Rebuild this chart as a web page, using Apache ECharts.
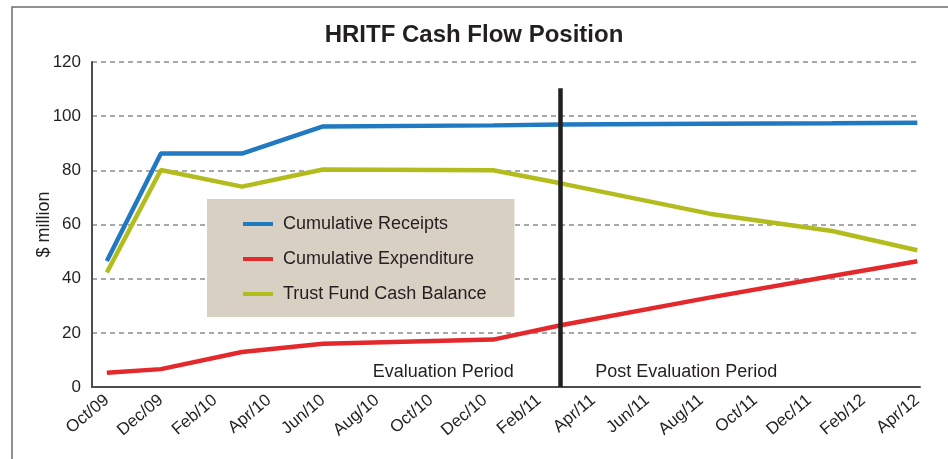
<!DOCTYPE html>
<html>
<head>
<meta charset="utf-8">
<script src="https://cdn.jsdelivr.net/npm/echarts@6/dist/echarts.min.js"></script>
<style>
  html, body { margin: 0; padding: 0; background: #fff; }
  #chart { width: 948px; height: 459px; }
</style>
</head>
<body>
<div id="chart"></div>
<script>
// tick labels, one every two months starting Oct/09 (month offset 0)
const tickLabels = ['Oct/09', 'Dec/09', 'Feb/10', 'Apr/10', 'Jun/10', 'Aug/10', 'Oct/10', 'Dec/10',
  'Feb/11', 'Apr/11', 'Jun/11', 'Aug/11', 'Oct/11', 'Dec/11', 'Feb/12', 'Apr/12'];
const tickMonths = [0, 2, 4, 6, 8, 10, 12, 14, 16, 18, 20, 22, 24, 26, 28, 30];

// data points (months after Oct/09)
const pointMonths = [0, 2, 5, 8, 14.3, 16.8, 22.3, 26.85, 30];
const receipts    = [46.5, 86.2, 86.2, 96.2, 96.6, 96.9, 97.2, 97.4, 97.6];
const expenditure = [5.3, 6.6, 12.9, 16.0, 17.5, 22.8, 33.0, 41.0, 46.4];
const balance     = [42.3, 80.1, 74.0, 80.3, 80.0, 75.2, 64.0, 57.6, 50.5];

// end of evaluation period marker
const evalEndMonth = 16.78;
const evalLineTop = 110.3;
const periodLabels = [
  { name: 'Evaluation Period', month: 12.45, y: 5.6 },
  { name: 'Post Evaluation Period', month: 21.45, y: 5.6 }
];

const textColor = '#231f20';
const fontFamily = '"Liberation Sans", Arial, sans-serif';

function pairs(values) {
  return pointMonths.map((m, i) => [m, values[i]]);
}

const chart = echarts.init(document.getElementById('chart'));

const lineSeries = (name, values, color) => ({
  name: name,
  type: 'line',
  data: pairs(values),
  showSymbol: false,
  symbol: 'none',
  color: color,
  lineStyle: { color: color, width: 4.5 },
  itemStyle: { color: color },
  animation: false,
  z: 3
});

const series = [
  lineSeries('Cumulative Receipts', receipts, '#2079c1'),
  lineSeries('Cumulative Expenditure', expenditure, '#e3292b'),
  lineSeries('Trust Fund Cash Balance', balance, '#b2bd1d')
];

// vertical marker + period texts hang on the first series
series[0].markLine = {
  silent: true,
  symbol: 'none',
  animation: false,
  label: { show: false },
  lineStyle: { color: textColor, width: 4.5, type: 'solid' },
  data: [[{ coord: [evalEndMonth, 0] }, { coord: [evalEndMonth, evalLineTop] }]]
};
series[0].markPoint = {
  silent: true,
  symbol: 'circle',
  symbolSize: 0,
  animation: false,
  label: {
    show: true, position: 'inside', formatter: '{b}',
    color: textColor, fontSize: 18, fontFamily: fontFamily
  },
  data: periodLabels.map(p => ({ name: p.name, coord: [p.month, p.y] }))
};

const option = {
  animation: false,
  backgroundColor: '#ffffff',
  title: {
    text: 'HRITF Cash Flow Position',
    left: 'center',
    top: 18,
    textStyle: { fontSize: 24, fontWeight: 'bold', color: textColor, fontFamily: fontFamily }
  },
  graphic: [{
    type: 'rect',
    silent: true,
    shape: { x: 12, y: 7, width: 1000, height: 1000 },
    style: { fill: 'none', stroke: '#6d6e71', lineWidth: 1.5 }
  }],
  legend: {
    orient: 'vertical',
    left: 207,
    top: 199,
    padding: [16, 28, 14, 36],
    itemGap: 17,
    itemWidth: 30,
    itemHeight: 4,
    icon: 'rect',
    backgroundColor: '#d8d0c3',
    borderWidth: 0,
    selectedMode: false,
    textStyle: { fontSize: 18, color: textColor, fontFamily: fontFamily, padding: [0, 0, 0, 5] }
  },
  grid: { left: 92, right: 28, top: 62, bottom: 72, containLabel: false },
  xAxis: {
    type: 'value',
    min: -0.55,
    max: 30.1,
    axisLine: { show: true, onZero: false, lineStyle: { color: '#4d4d4d', width: 2 } },
    axisTick: { show: false },
    splitLine: { show: false },
    axisLabel: {
      customValues: tickMonths,
      rotate: 40,
      margin: 11,
      fontSize: 17,
      color: textColor,
      fontFamily: fontFamily,
      hideOverlap: false,
      formatter: v => tickLabels[tickMonths.indexOf(v)]
    }
  },
  yAxis: {
    type: 'value',
    min: 0,
    max: 120,
    interval: 20,
    name: '$ million',
    nameLocation: 'middle',
    nameGap: 39,
    nameMoveOverlap: false,
    nameTextStyle: { fontSize: 18, color: textColor, fontFamily: fontFamily },
    axisLine: { show: true, onZero: false, lineStyle: { color: '#4d4d4d', width: 2 } },
    axisTick: { show: false },
    axisLabel: { fontSize: 17, color: textColor, fontFamily: fontFamily, margin: 11 },
    splitLine: { show: true, lineStyle: { color: '#a7a9ac', width: 2, type: [5, 4] } }
  },
  series: series
};

chart.setOption(option);
</script>
</body>
</html>
